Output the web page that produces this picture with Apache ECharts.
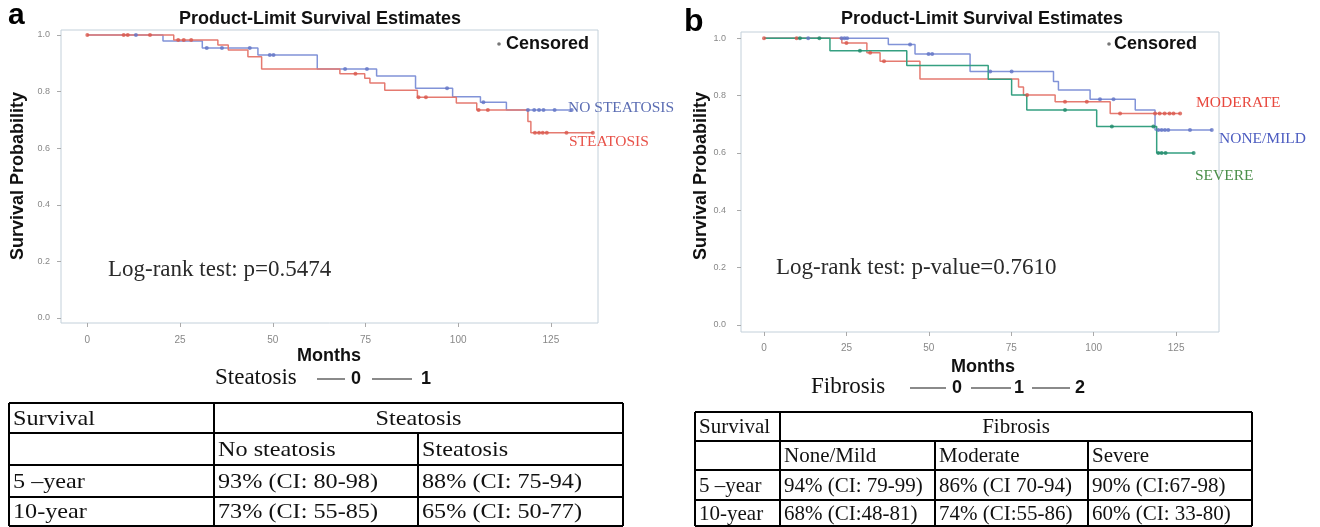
<!DOCTYPE html>
<html><head><meta charset="utf-8">
<script src="https://cdn.jsdelivr.net/npm/echarts@6/dist/echarts.min.js"></script>
<style>html,body{margin:0;padding:0;background:#fff}#c{width:1320px;height:527px}</style>
</head><body><div id="c"></div>
<script>
// ---------- shared ticks ----------
const xTicks = [0, 25, 50, 75, 100, 125];
const yTicks = [0, 0.2, 0.4, 0.6, 0.8, 1.0];

// ---------- panel a : steatosis ----------
const noSteatosisT = [0, 20.4, 31, 46, 62, 78, 88.5, 98.5, 106, 113, 130.6];
const noSteatosisS = [1.0, 0.979, 0.954, 0.929, 0.88, 0.855, 0.812, 0.782, 0.762, 0.735, 0.735];
const noSteatosisCens = [[13.1,1],[32.2,0.954],[36.3,0.954],[43.8,0.954],[49.2,0.929],[50.2,0.929],[69.5,0.88],[75.4,0.88],[97,0.812],[106.8,0.762],[118.8,0.735],[120.5,0.735],[121.8,0.735],[123,0.735],[126,0.735],[130.6,0.735]];

const steatosisT = [0, 23.3, 35.2, 38, 43.3, 47, 68.1, 74.8, 76.2, 80.2, 89, 99.5, 105, 118.8, 119.6, 136.3];
const steatosisS = [1.0, 0.982, 0.965, 0.947, 0.923, 0.88, 0.863, 0.847, 0.83, 0.805, 0.78, 0.76, 0.735, 0.694, 0.655, 0.655];
const steatosisCens = [[0,1],[9.8,1],[10.9,1],[16.9,1],[24.5,0.982],[26,0.982],[28,0.982],[72.3,0.863],[89.3,0.78],[91.3,0.78],[105.5,0.735],[108,0.735],[120.7,0.655],[121.8,0.655],[122.8,0.655],[123.9,0.655],[129.2,0.655],[136.3,0.655]];

// ---------- panel b : fibrosis ----------
const noneMildT = [0, 37.7, 45.8, 62.5, 87.8, 89.3, 98.9, 112.6, 118.6, 135.8];
const noneMildS = [1.0, 0.978, 0.945, 0.884, 0.849, 0.82, 0.787, 0.75, 0.68, 0.68];
const noneMildCens = [[13.4,1],[23.5,1],[24.4,1],[25.2,1],[44.3,0.978],[49.9,0.945],[51,0.945],[68.6,0.884],[75.1,0.884],[101.9,0.787],[106,0.787],[119.6,0.68],[120.6,0.68],[121.6,0.68],[122.6,0.68],[129.2,0.68],[135.8,0.68]];

const moderateT = [0, 23.6, 31.2, 35.2, 47.3, 77.2, 78.7, 88.3, 105, 126.2];
const moderateS = [1.0, 0.984, 0.95, 0.92, 0.858, 0.83, 0.802, 0.779, 0.738, 0.738];
const moderateCens = [[0,1],[9.9,1],[25,0.984],[32.2,0.95],[36.4,0.92],[79.8,0.802],[91.3,0.779],[97.9,0.779],[108,0.738],[118.6,0.738],[120,0.738],[121.5,0.738],[123,0.738],[124.2,0.738],[126.2,0.738]];

const severeT = [0, 20, 43.3, 68, 75.1, 79.7, 100.9, 119.1, 130.3];
const severeS = [1.0, 0.957, 0.905, 0.857, 0.802, 0.75, 0.692, 0.6, 0.6];
const severeCens = [[10.9,1],[16.8,1],[29.1,0.957],[91.3,0.75],[105.5,0.692],[118.1,0.692],[119.6,0.6],[120.6,0.6],[121.8,0.6],[130.3,0.6]];

// ---------- tables ----------
const tableAHeader = ['Survival', 'Steatosis'];
const tableASub = ['', 'No steatosis', 'Steatosis'];
const tableARows = [
  ['5 \u2013year', '93% (CI: 80-98)', '88% (CI: 75-94)'],
  ['10-year', '73% (CI: 55-85)', '65% (CI: 50-77)']
];
const tableBHeader = ['Survival', 'Fibrosis'];
const tableBSub = ['', 'None/Mild', 'Moderate', 'Severe'];
const tableBRows = [
  ['5 \u2013year', '94% (CI: 79-99)', '86% (CI 70-94)', '90% (CI:67-98)'],
  ['10-year', '68% (CI:48-81)', '74% (CI:55-86)', '60% (CI: 33-80)']
];

// ---------- styling ----------
const SANS = '"Liberation Sans", Arial, sans-serif';
const SERIF = '"Liberation Serif", "Times New Roman", serif';
const C_BLUE = '#8193d8', C_BLUE_D = '#6174c6';
const C_RED = '#e57a70', C_RED_D = '#d9574c';
const C_GREEN = '#35a081', C_GREEN_D = '#1f8a6a';
const FRAME = '#c3d0da';

function km(T, S) { return T.map((t, i) => [t, S[i]]); }

function xAxisCfg(gi, min, max, margin) {
  return {type: 'value', gridIndex: gi, min: min, max: max,
    axisLine: {show: false, onZero: false}, splitLine: {show: false},
    axisTick: {show: true, customValues: xTicks, length: 4, lineStyle: {color: '#aaa'}},
    axisLabel: {customValues: xTicks, fontSize: 10, color: '#888', margin: margin, fontFamily: SANS}};
}
function yAxisCfg(gi, min, max, margin) {
  return {type: 'value', gridIndex: gi, min: min, max: max,
    axisLine: {show: false, onZero: false}, splitLine: {show: false},
    axisTick: {show: true, customValues: yTicks, length: 4, lineStyle: {color: '#aaa'}},
    axisLabel: {customValues: yTicks, fontSize: 9, color: '#888', margin: margin, fontFamily: SANS,
      formatter: v => v.toFixed(1)}};
}
function lineSeries(gi, T, S, color) {
  return {type: 'line', xAxisIndex: gi, yAxisIndex: gi, step: 'end', data: km(T, S),
    showSymbol: false, lineStyle: {color: color, width: 1.5}, itemStyle: {color: color}, z: 2};
}
function censSeries(gi, data, color) {
  return {type: 'scatter', xAxisIndex: gi, yAxisIndex: gi, data: data, symbol: 'circle',
    symbolSize: 4, itemStyle: {color: color}, z: 3};
}

function txt(x, y, text, font, fill, align, valign, extra) {
  return Object.assign({type: 'text', x: x, y: y, silent: true,
    style: {text: text, font: font, fill: fill || '#111', textAlign: align || 'left', textVerticalAlign: valign || 'middle'}}, extra || {});
}
function ln(x1, y1, x2, y2, color, w) {
  return {type: 'line', silent: true, shape: {x1: x1, y1: y1, x2: x2, y2: y2},
    style: {stroke: color || '#000', lineWidth: w || 2}};
}

function tableGraphics(cols, rows, header, sub, body, fontPx, sx, pad) {
  const els = [];
  const L = cols[0], R = cols[cols.length - 1], B = rows[rows.length - 1];
  const font = fontPx + 'px ' + SERIF;
  const ex = {scaleX: sx};
  rows.forEach(y => els.push(ln(L, y, R, y)));
  els.push(ln(L, rows[0], L, B));
  els.push(ln(R, rows[0], R, B));
  els.push(ln(cols[1], rows[0], cols[1], B));
  for (let i = 2; i < cols.length - 1; i++) els.push(ln(cols[i], rows[1], cols[i], B));
  const cy = r => (rows[r] + rows[r + 1]) / 2 + 1;
  els.push(txt(cols[0] + pad, cy(0), header[0], font, '#111', 'left', 'middle', ex));
  els.push(txt((cols[1] + R) / 2, cy(0), header[1], font, '#111', 'center', 'middle', ex));
  sub.forEach((s, c) => { if (s) els.push(txt(cols[c] + pad, cy(1), s, font, '#111', 'left', 'middle', ex)); });
  body.forEach((row, r) => row.forEach((s, c) => els.push(txt(cols[c] + pad, cy(r + 2), s, font, '#111', 'left', 'middle', ex))));
  return els;
}

const boldSans = px => 'bold ' + px + 'px ' + SANS;
const serif = px => px + 'px ' + SERIF;

const graphics = [
  // panel letters
  txt(8, 16, 'a', boldSans(30), '#000'),
  txt(684, 22, 'b', boldSans(32), '#000'),
  // titles
  txt(320, 19, 'Product-Limit Survival Estimates', boldSans(18), '#111', 'center'),
  txt(982, 19, 'Product-Limit Survival Estimates', boldSans(18), '#111', 'center'),
  // censored legends
  {type: 'circle', silent: true, shape: {cx: 499, cy: 44, r: 1.8}, style: {fill: '#777'}},
  txt(506, 44, 'Censored', boldSans(18), '#111'),
  {type: 'circle', silent: true, shape: {cx: 1109, cy: 44, r: 1.8}, style: {fill: '#777'}},
  txt(1114, 44, 'Censored', boldSans(18), '#111'),
  // y titles
  txt(18, 176, 'Survival Probability', boldSans(18), '#111', 'center', 'middle', {rotation: Math.PI / 2}),
  txt(701, 176, 'Survival Probability', boldSans(18), '#111', 'center', 'middle', {rotation: Math.PI / 2}),
  // x titles
  txt(329, 356, 'Months', boldSans(18), '#111', 'center'),
  txt(983, 367, 'Months', boldSans(18), '#111', 'center'),
  // curve labels
  txt(568, 108, 'NO STEATOSIS', serif(15.5), '#5b6db3'),
  txt(569, 142, 'STEATOSIS', serif(15.5), '#e8534a'),
  txt(1196, 103, 'MODERATE', serif(15.5), '#e8483e'),
  txt(1219, 139, 'NONE/MILD', serif(15.5), '#4c5cc0'),
  txt(1195, 176, 'SEVERE', serif(15.5), '#4b8f4a'),
  // log-rank
  txt(108, 270, 'Log-rank test: p=0.5474', serif(23), '#2a2a2a'),
  txt(776, 268, 'Log-rank test: p-value=0.7610', serif(23), '#2a2a2a'),
  // group legends
  txt(215, 378, 'Steatosis', serif(23), '#111'),
  ln(317, 379, 345, 379, '#8a8a8a', 2), txt(356, 379, '0', boldSans(18), '#111', 'center'),
  ln(372, 379, 412, 379, '#8a8a8a', 2), txt(426, 379, '1', boldSans(18), '#111', 'center'),
  txt(811, 387, 'Fibrosis', serif(23), '#111'),
  ln(910, 388, 946, 388, '#8a8a8a', 2), txt(957, 388, '0', boldSans(18), '#111', 'center'),
  ln(971, 388, 1011, 388, '#8a8a8a', 2), txt(1019, 388, '1', boldSans(18), '#111', 'center'),
  ln(1032, 388, 1070, 388, '#8a8a8a', 2), txt(1080, 388, '2', boldSans(18), '#111', 'center')
].concat(
  tableGraphics([9, 214, 418, 623], [403, 433, 465, 497, 526], tableAHeader, tableASub, tableARows, 22, 1.1, 4),
  tableGraphics([695, 780, 935, 1088, 1252], [412, 441, 470, 500, 526], tableBHeader, tableBSub, tableBRows, 21, 1.0, 4)
);

const option = {
  animation: false,
  backgroundColor: '#fff',
  grid: [
    {left: 61, top: 30, width: 537, height: 293, show: true, borderColor: FRAME, borderWidth: 1, backgroundColor: '#fff'},
    {left: 741, top: 32, width: 478, height: 300, show: true, borderColor: FRAME, borderWidth: 1, backgroundColor: '#fff'}
  ],
  xAxis: [xAxisCfg(0, -7.1, 137.7, 12), xAxisCfg(1, -6.98, 138.0, 11)],
  yAxis: [yAxisCfg(0, -0.0177, 1.0177, 11), yAxisCfg(1, -0.0244, 1.022, 15)],
  series: [
    lineSeries(0, noSteatosisT, noSteatosisS, C_BLUE),
    lineSeries(0, steatosisT, steatosisS, C_RED),
    censSeries(0, noSteatosisCens, C_BLUE_D),
    censSeries(0, steatosisCens, C_RED_D),
    lineSeries(1, noneMildT, noneMildS, C_BLUE),
    lineSeries(1, moderateT, moderateS, C_RED),
    lineSeries(1, severeT, severeS, C_GREEN),
    censSeries(1, noneMildCens, C_BLUE_D),
    censSeries(1, moderateCens, C_RED_D),
    censSeries(1, severeCens, C_GREEN_D)
  ],
  graphic: {elements: graphics}
};
const chart = echarts.init(document.getElementById('c'));
chart.setOption(option);
</script></body></html>
